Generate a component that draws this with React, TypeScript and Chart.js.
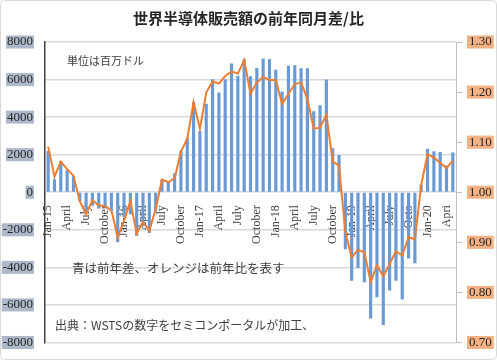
import { useEffect, useRef } from 'react';
import { Chart, registerables } from 'chart.js';

Chart.register(...registerables);

const categories = [
  'Jan-15', 'Feb-15', 'Mar-15', 'Apr-15', 'May-15', 'Jun-15', 'Jul-15', 'Aug-15', 'Sep-15', 'Oct-15', 'Nov-15', 'Dec-15',
  'Jan-16', 'Feb-16', 'Mar-16', 'Apr-16', 'May-16', 'Jun-16', 'Jul-16', 'Aug-16', 'Sep-16', 'Oct-16', 'Nov-16', 'Dec-16',
  'Jan-17', 'Feb-17', 'Mar-17', 'Apr-17', 'May-17', 'Jun-17', 'Jul-17', 'Aug-17', 'Sep-17', 'Oct-17', 'Nov-17', 'Dec-17',
  'Jan-18', 'Feb-18', 'Mar-18', 'Apr-18', 'May-18', 'Jun-18', 'Jul-18', 'Aug-18', 'Sep-18', 'Oct-18', 'Nov-18', 'Dec-18',
  'Jan-19', 'Feb-19', 'Mar-19', 'Apr-19', 'May-19', 'Jun-19', 'Jul-19', 'Aug-19', 'Sep-19', 'Oct-19', 'Nov-19', 'Dec-19',
  'Jan-20', 'Feb-20', 'Mar-20', 'Apr-20', 'May-20',
];

// Shown every third month
const tickLabels = [
  'Jan-15', 'April', 'July', 'October',
  'Jan-16', 'April', 'July', 'October',
  'Jan-17', 'April', 'July', 'October',
  'Jan-18', 'April', 'July', 'October',
  'Jan-19', 'April', 'July', 'Octo',
  'Jan-20', 'Apri',
];

// 前年差 (million USD)
const diffValues = [
  2180, 680, 1650, 1160, 840, -450, -1100, -700, -850, -800, -1000, -2650,
  -1300, -1150, -2300, -1800, -2150, -1000, 660, 540, 1000, 2210, 2860, 4790,
  3240, 4700, 6000, 5300, 6000, 6840, 6190, 7070, 6160, 6600, 7100, 7070,
  6500, 5350, 6720, 6750, 6580, 6580, 4300, 4610, 5980, 2330, 1960, -3020,
  -4690, -4020, -4780, -6700, -5570, -7050, -5210, -4690, -5700, -3510, -3760, 400,
  2300, 2160, 2120, 1400, 2100,
];

// 前年比
const ratioValues = [
  1.091, 1.031, 1.061, 1.046, 1.033, 0.982, 0.956, 0.984, 0.974, 0.972, 0.964, 0.910,
  0.943, 0.982, 0.918, 0.941, 0.923, 0.966, 1.025, 1.020, 1.028, 1.081, 1.107, 1.180,
  1.127, 1.199, 1.221, 1.217, 1.232, 1.241, 1.237, 1.264, 1.197, 1.219, 1.230, 1.224,
  1.224, 1.176, 1.196, 1.216, 1.219, 1.186, 1.127, 1.129, 1.155, 1.061, 1.053, 0.921,
  0.870, 0.885, 0.880, 0.821, 0.854, 0.832, 0.857, 0.882, 0.874, 0.910, 0.906, 1.015,
  1.076, 1.069, 1.059, 1.048, 1.063,
];

const titleText = '世界半導体販売額の前年同月差/比';
const noteTexts = [
  '単位は百万ドル',
  '青は前年差、オレンジは前年比を表す',
  '出典：WSTSの数字をセミコンポータルが加工、',
];

const SERIF = '"Liberation Serif", "DejaVu Serif", serif';
const CJK = '"Noto Sans CJK JP", "Noto Sans CJK SC", sans-serif';

export default function App() {
  const canvasRef = useRef<HTMLCanvasElement | null>(null);

  useEffect(() => {
    const canvas = canvasRef.current;
    if (!canvas) return;

    const framePlugin = {
      id: 'frame',
      beforeDraw(chart: any) {
        const { ctx, width, height } = chart;
        ctx.save();
        ctx.fillStyle = '#ffffff';
        ctx.fillRect(0, 0, width, height);
        ctx.strokeStyle = '#d9d9d9';
        ctx.lineWidth = 1;
        ctx.beginPath();
        (ctx as any).roundRect ? ctx.roundRect(0.5, 0.5, width - 1, height - 1, 4) : ctx.rect(0.5, 0.5, width - 1, height - 1);
        ctx.stroke();
        ctx.restore();
      },
      afterDraw(chart: any) {
        const { ctx, chartArea } = chart;
        const y = chart.scales.y;
        const notes = [
          { text: noteTexts[0], dx: 22, value: 7000, size: 11 },
          { text: noteTexts[1], dx: 27, value: -4050, size: 12.5 },
          { text: noteTexts[2], dx: 10, value: -7100, size: 12 },
        ];
        ctx.save();
        ctx.fillStyle = '#404040';
        ctx.textBaseline = 'middle';
        ctx.textAlign = 'left';
        notes.forEach((n) => {
          ctx.font = `${n.size}px ${CJK}`;
          ctx.fillText(n.text, chartArea.left + n.dx, y.getPixelForValue(n.value));
        });
        ctx.restore();
      },
    };

    const chart = new Chart(canvas, {
      type: 'bar',
      data: {
        labels: categories,
        datasets: [
          {
            type: 'line',
            label: '前年比',
            data: ratioValues,
            yAxisID: 'y1',
            borderColor: '#ed7d31',
            backgroundColor: '#ed7d31',
            borderWidth: 2,
            pointRadius: 0,
            tension: 0,
            order: 1,
          },
          {
            type: 'bar',
            label: '前年差',
            data: diffValues,
            yAxisID: 'y',
            backgroundColor: '#6a9ad6',
            barThickness: 2.5,
            order: 2,
          },
        ],
      },
      options: {
        responsive: false,
        animation: false,
        events: [],
        layout: { padding: { left: 0, right: 0, top: 0, bottom: 14 } },
        plugins: {
          legend: { display: false },
          tooltip: { enabled: false },
          title: {
            display: true,
            text: titleText,
            color: '#262626',
            font: { family: CJK, size: 15, weight: 'bold', lineHeight: 1.2 },
            padding: { top: 9, bottom: 15 },
          },
        },
        scales: {
          x: {
            type: 'category',
            position: { y: 0 },
            grid: { display: false },
            border: { display: false },
            ticks: {
              autoSkip: false,
              minRotation: 90,
              maxRotation: 90,
              padding: 5,
              color: '#404040',
              font: { family: SERIF, size: 12 },
              callback: (_v: any, i: number) => (i % 3 === 0 ? tickLabels[i / 3] ?? '' : ''),
            },
          },
          y: {
            type: 'linear',
            position: 'left',
            min: -8000,
            max: 8000,
            afterFit: (s: any) => { s.width = 45; },
            grid: { color: '#d9d9d9', lineWidth: 1.5, drawTicks: false },
            border: { display: true, color: '#404040', width: 1.5 },
            ticks: {
              stepSize: 2000,
              padding: 12,
              color: '#262626',
              font: { family: SERIF, size: 13, lineHeight: 0.85 },
              showLabelBackdrop: true,
              backdropColor: '#adb9ca',
              backdropPadding: { left: 1, right: 1, top: 1, bottom: 1 },
              callback: (v: any) => String(v),
            },
          },
          y1: {
            type: 'linear',
            position: 'right',
            min: 0.7,
            max: 1.3,
            afterFit: (s: any) => { s.width = 41; },
            grid: { drawOnChartArea: false, color: '#bfbfbf', tickLength: 6, lineWidth: 1 },
            border: { display: true, color: '#bfbfbf', width: 1 },
            ticks: {
              stepSize: 0.1,
              padding: 7,
              color: '#262626',
              font: { family: SERIF, size: 13, lineHeight: 0.85 },
              showLabelBackdrop: true,
              backdropColor: '#f4b183',
              backdropPadding: { left: 2, right: 2, top: 1, bottom: 1 },
              callback: (v: any) => Number(v).toFixed(2),
            },
          },
        },
      },
      plugins: [framePlugin],
    });

    return () => chart.destroy();
  }, []);

  return (
    <div style={{ position: 'absolute', left: 0, top: 0, width: 497, height: 360 }}>
      <canvas ref={canvasRef} width={497} height={360} style={{ display: 'block' }} />
    </div>
  );
}
